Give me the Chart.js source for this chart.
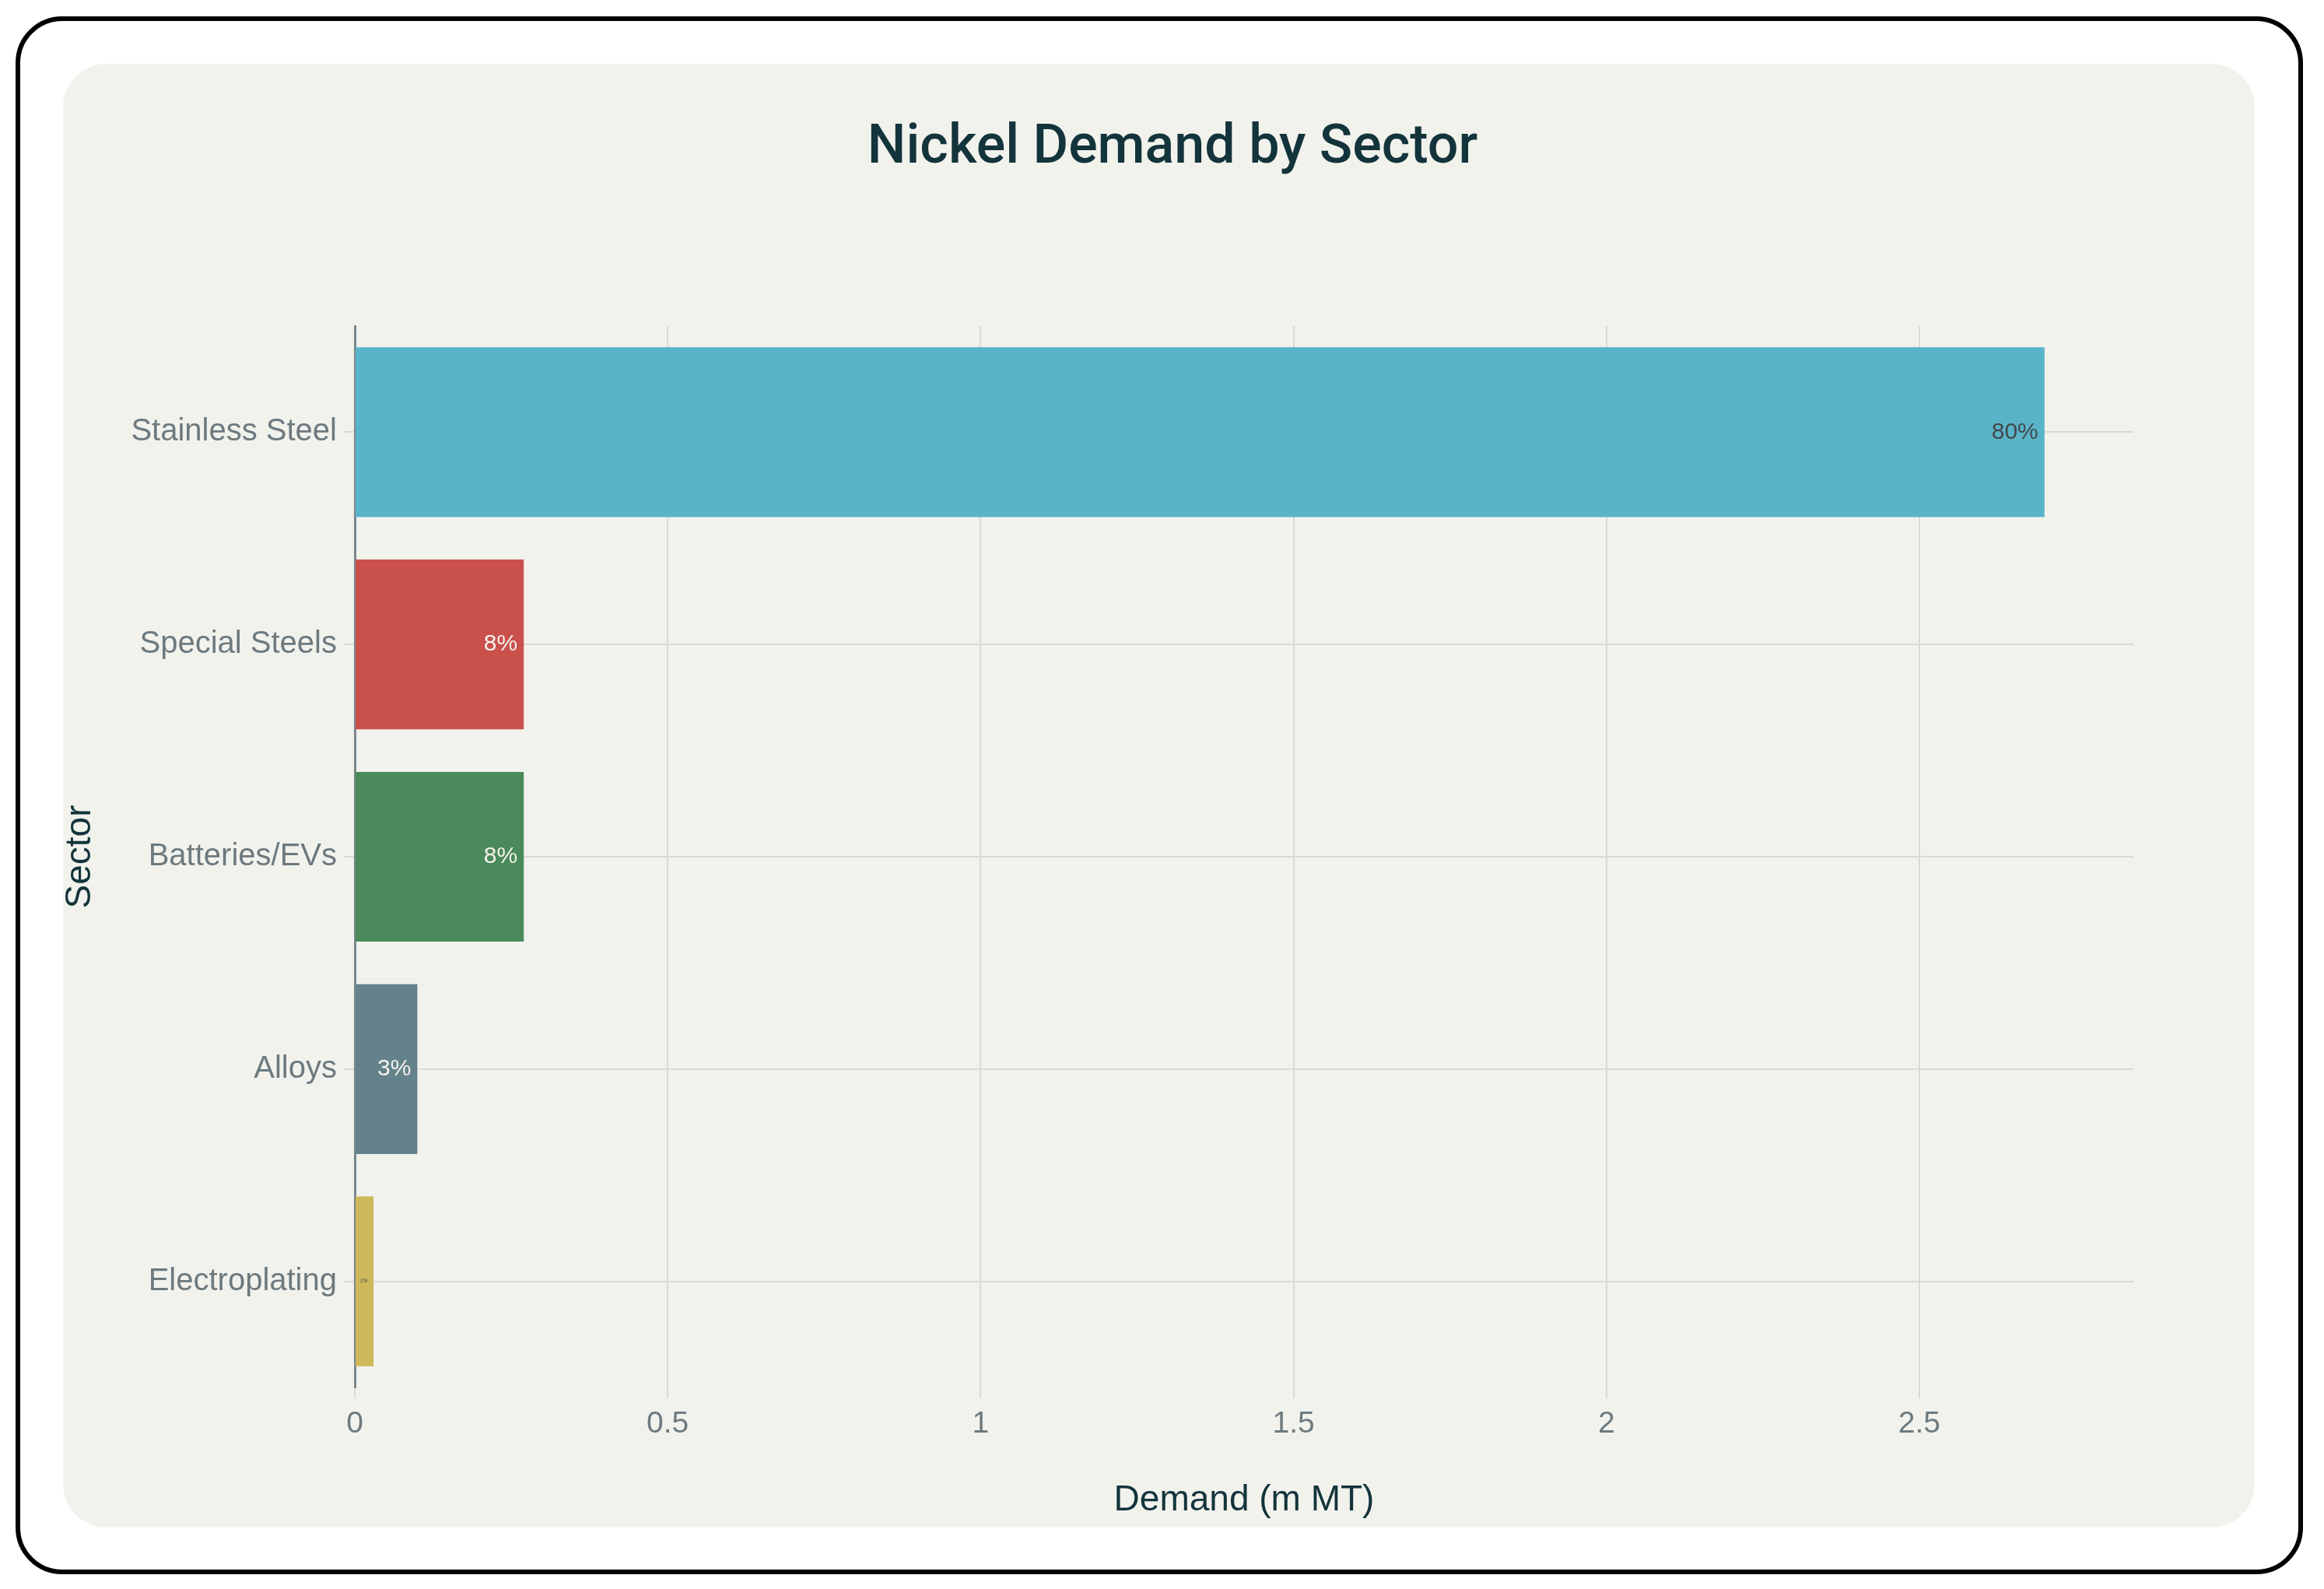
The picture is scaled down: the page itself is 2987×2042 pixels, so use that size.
<!DOCTYPE html>
<html>
<head>
<meta charset="utf-8">
<title>Nickel Demand by Sector</title>
<script src="https://cdn.jsdelivr.net/npm/chart.js@4"></script>
<style>
  html, body { margin: 0; padding: 0; background: #ffffff; }
  body { width: 2987px; height: 2042px; position: relative; overflow: hidden; }
  .frame {
    position: absolute; left: 20px; top: 21px; width: 2940px; height: 2002px;
    border: 6px solid #000; border-radius: 60px; box-sizing: border-box;
  }
  .panel {
    position: absolute; left: 81px; top: 82px; width: 2817px; height: 1881px;
    background: #f2f2ed; border-radius: 56px;
  }
  #chart { position: absolute; left: 0; top: 0; }
</style>
</head>
<body>
<div class="frame"></div>
<div class="panel"></div>
<canvas id="chart" width="2987" height="2042"></canvas>
<script>
  // Data
  const sectors = ['Stainless Steel', 'Special Steels', 'Batteries/EVs', 'Alloys', 'Electroplating'];
  const demand = [2.7, 0.27, 0.27, 0.1, 0.03];
  const shareLabels = ['80%', '8%', '8%', '3%', '1%'];
  const barColors = ['#5ab4c9', '#c9504b', '#4b8a5a', '#64828b', '#cdb85a'];
  const xTicks = [0, 0.5, 1, 1.5, 2, 2.5];
  const xMax = 2.842;

  const FONT = '"Liberation Sans", Arial, sans-serif';
  const TICK_COLOR = '#6c7a7f';
  const TITLE_COLOR = '#13343b';
  const GRID_COLOR = '#dad9d3';

  // Percent labels drawn inside the end of each bar, shrunk when the bar is too short
  const barLabels = {
    id: 'barLabels',
    afterDatasetsDraw(chart) {
      const ctx = chart.ctx;
      const meta = chart.getDatasetMeta(0);
      ctx.save();
      ctx.textAlign = 'right';
      ctx.textBaseline = 'middle';
      meta.data.forEach((bar, i) => {
        const text = shareLabels[i];
        let size = 30;
        ctx.font = size + 'px ' + FONT;
        const w = ctx.measureText(text).width;
        const room = (bar.x - bar.base) - 14;
        if (w > room) {
          size = size * room / w;
          ctx.font = size + 'px ' + FONT;
        }
        ctx.fillStyle = (i === 0 || i === 4) ? '#41494c' : '#f4f1ea';
        ctx.fillText(text, bar.x - 8, bar.y);
      });
      ctx.restore();
    }
  };

  new Chart(document.getElementById('chart'), {
    type: 'bar',
    data: {
      labels: sectors,
      datasets: [{
        data: demand,
        backgroundColor: barColors,
        borderWidth: 0,
        barPercentage: 0.8,
        categoryPercentage: 1.0
      }]
    },
    options: {
      indexAxis: 'y',
      responsive: false,
      animation: false,
      devicePixelRatio: 1,
      layout: { padding: { left: 80, right: 53, top: 82, bottom: 60 } },
      plugins: {
        legend: { display: false },
        tooltip: { enabled: false },
        title: {
          display: true,
          text: 'Nickel Demand by Sector',
          color: TITLE_COLOR,
          font: { family: 'Roboto, ' + FONT, size: 70, weight: 500 },
          padding: { top: 67, bottom: 186 }
        }
      },
      scales: {
        x: {
          type: 'linear',
          min: 0,
          max: xMax,
          afterBuildTicks: (scale) => { scale.ticks = xTicks.map(v => ({ value: v })); },
          afterFit: (scale) => { scale.height = 199; },
          grid: { color: GRID_COLOR, lineWidth: 2, tickLength: 14 },
          border: { display: false },
          ticks: {
            color: TICK_COLOR,
            padding: 10,
            font: { family: FONT, size: 39 },
            callback: (v) => String(v)
          },
          title: {
            display: true,
            text: 'Demand (m MT)',
            color: TITLE_COLOR,
            font: { family: FONT, size: 46 },
            padding: { top: 0, bottom: 26 }
          }
        },
        y: {
          afterFit: (scale) => { scale.width = 376; },
          grid: { color: GRID_COLOR, lineWidth: 2, tickLength: 14, offset: false },
          border: { display: true, color: '#7a878c', width: 3 },
          ticks: {
            color: TICK_COLOR,
            padding: 9,
            font: { family: FONT, size: 40 }
          },
          title: {
            display: true,
            text: 'Sector',
            color: TITLE_COLOR,
            font: { family: FONT, size: 46 },
            padding: { top: -4, bottom: 0 }
          }
        },
        // empty right-hand margin so the title sits where the reference has it
        spacer: {
          type: 'linear',
          position: 'right',
          afterFit: (scale) => { scale.width = 192; },
          grid: { display: false },
          border: { display: false },
          ticks: { display: false }
        }
      }
    },
    plugins: [barLabels]
  });
</script>
</body>
</html>
